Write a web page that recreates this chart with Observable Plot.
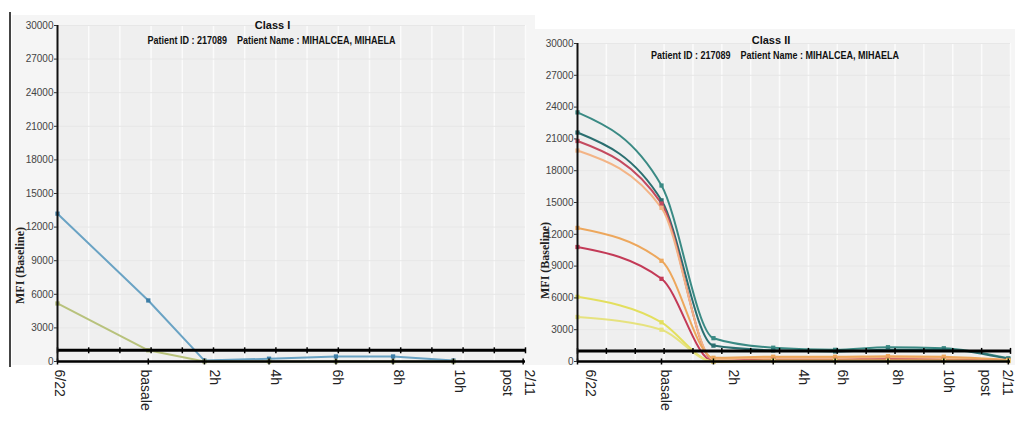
<!DOCTYPE html>
<html><head><meta charset="utf-8">
<script src="https://cdn.jsdelivr.net/npm/d3@7"></script>
<script src="https://cdn.jsdelivr.net/npm/@observablehq/plot@0.6"></script>
<style>
body{margin:0;background:#fff;width:1015px;height:441px;overflow:hidden;position:relative;font-family:"Liberation Sans",Arial,sans-serif}
.panel{position:absolute;top:0}
.bg{position:absolute;background:#f5f5f5}
</style></head><body>
<div class="bg" style="left:12px;top:15px;width:523px;height:350px"></div>
<div class="bg" style="left:530px;top:29px;width:485px;height:336px"></div>
<div style="position:absolute;left:9px;top:12px;width:2px;height:355px;background:#444"></div>
<div id="c1" class="panel" style="left:0"></div>
<div id="c2" class="panel" style="left:540px"></div>
<script>
// sample timepoints (relative position on the time axis, 0..100)
const sampleT = [0, 19.4, 31.4, 45.2, 59.5, 71.7, 84.6, 99.5];
const tickLabels = ["6/22", "basale", "2h", "4h", "6h", "8h", "10h", "post", "2/11"];
const classILabelT = [0.4, 18.8, 33.5, 46.6, 59.8, 72.9, 85.9, 96.2, 100.9];
const classIILabelT = [3.0, 20.3, 36.0, 52.2, 61.2, 73.9, 85.7, 94.2, 99.3];
const yTicks = [0, 3000, 6000, 9000, 12000, 15000, 18000, 21000, 24000, 27000, 30000];
const threshold = 1000;
const gridT = d3.range(16).map(i => i * 100 / 15);

const subtitle = "Patient ID : 217089\u00a0\u00a0\u00a0\u00a0Patient Name : MIHALCEA, MIHAELA";

// Class I series
const classINames = ["Bead A", "Bead B"];
const classIColors = ["#6aa3c4", "#b8c27c"];
const classIMarker = ["#3c7da6", "#a8b46a"];
const classIBeadA = [13200, 5450, 80, 250, 450, 450, 80];
const classIBeadB = [5180, 1000, 0, 0, 0, 0, 0];

// Class II series
const classIINames = ["DQ 1", "DQ 2", "DR 1", "DR 2", "DR 3", "DR 4", "DP 1", "DP 2"];
const classIIColors = ["#3a8a84", "#2b6f70", "#c44a5f", "#f3b486", "#eda75c", "#c33a57", "#e3df5e", "#e6e27e"];
const classIIdq1 = [23500, 16600, 2200, 1300, 1100, 1350, 1250, 300];
const classIIdq2 = [21600, 15200, 1500, 1050, 950, 1100, 1100, 250];
const classIIdr1 = [20800, 14900, 100, 200, 200, 250, 200, 100];
const classIIdr2 = [19900, 14500, 200, 350, 350, 400, 350, 100];
const classIIdr3 = [12600, 9500, 350, 450, 450, 500, 450, 150];
const classIIdr4 = [10800, 7800, 0, 150, 150, 150, 150, 50];
const classIIdp1 = [6100, 3700, 0, 100, 100, 100, 100, 50];
const classIIdp2 = [4200, 3000, 0, 50, 50, 50, 50, 50];

const vtick = {draw(ctx) { ctx.moveTo(0, -3); ctx.lineTo(0, 3); }};

function rowsOf(names, arrays) {
  return names.flatMap((n, k) => arrays[k].map((v, i) => ({name: n, t: sampleT[i], v})));
}

function panel({width, mL, mR, mT, mB, names, arrays, colors, markers, labelT, title, curve, titleDx, subDx, titleDy, subDy, ylabDx, ylabDy}) {
  const rows = rowsOf(names, arrays);
  const svg = Plot.plot({
    width, height: 441,
    marginLeft: mL, marginRight: mR, marginTop: mT, marginBottom: mB,
    style: {fontFamily: "'Liberation Sans',Arial,sans-serif", fontSize: "10px", background: "transparent", overflow: "visible"},
    x: {domain: [0, 100], axis: null},
    y: {domain: [0, 30000], axis: null},
    color: {domain: names, range: colors},
    marks: [
      Plot.frame({fill: "#efefef", stroke: null}),
      Plot.gridX(gridT, {stroke: "#fbfbfb", strokeOpacity: 1, strokeWidth: 1.5}),
      Plot.gridY(yTicks, {stroke: "#e7e7e7", strokeOpacity: 1}),
      Plot.lineY(rows, {x: "t", y: "v", z: "name", stroke: "name", strokeWidth: 2, curve}),
      Plot.dot(rows, {x: "t", y: "v", fill: d => markers[names.indexOf(d.name)], symbol: "square", r: 2.4}),
      Plot.ruleY([threshold], {stroke: "#000", strokeWidth: 3}),
      Plot.dot(gridT, {x: d => d, y: threshold, symbol: vtick, stroke: "#000", fill: "none", strokeWidth: 1.5}),
      Plot.ruleY([0], {stroke: "#000", strokeWidth: 2.5}),
      Plot.dot(sampleT, {x: d => d, y: 0, symbol: vtick, stroke: "#000", fill: "none", strokeWidth: 1.5}),
      Plot.ruleX([0], {y1: 0, y2: 30000, stroke: "#111", strokeWidth: 2}),
      Plot.axisY(yTicks, {tickSize: 3, tickPadding: 1, fill: "#444", stroke: "#333", label: null, fontSize: 10, tickFormat: d => String(d)}),
      Plot.text(tickLabels, {x: (d, i) => labelT[i], text: d => d, frameAnchor: "bottom", rotate: 90, textAnchor: "start", lineAnchor: "middle", dy: 8, fontSize: 14, fill: "#222"}),
      Plot.text([title], {frameAnchor: "top", dx: titleDx, dy: titleDy, fontWeight: "bold", fontSize: 11, fill: "#111"}),
      Plot.text([subtitle], {frameAnchor: "top", dx: subDx, dy: subDy, fontWeight: "bold", fontSize: 11, fill: "#111"}),
      Plot.text(["MFI (Baseline)"], {frameAnchor: "left", dx: ylabDx, dy: ylabDy, rotate: -90, textAnchor: "middle", fontWeight: "bold", fontSize: 12, fill: "#222", fontFamily: "'Liberation Serif','Times New Roman',serif", style: "letter-spacing:1.6px"})
    ]
  });
  // condense the bold title lines like the narrow font of the original
  d3.select(svg).selectAll("text").filter(function() { return this.textContent === subtitle; })
    .attr("textLength", 248).attr("lengthAdjust", "spacingAndGlyphs");
  return svg;
}

document.getElementById("c1").append(panel({
  width: 535, mL: 57, mR: 10, mT: 25, mB: 80,
  names: classINames, arrays: [classIBeadA, classIBeadB], colors: classIColors, markers: classIMarker,
  labelT: classILabelT, title: "Class I", curve: "linear",
  titleDx: -19, subDx: -20, titleDy: -4, subDy: 11, ylabDx: -37, ylabDy: 72
}));
document.getElementById("c2").append(panel({
  width: 475, mL: 37, mR: 5, mT: 43, mB: 80,
  names: classIINames, arrays: [classIIdq1, classIIdq2, classIIdr1, classIIdr2, classIIdr3, classIIdr4, classIIdp1, classIIdp2],
  colors: classIIColors, markers: classIIColors,
  labelT: classIILabelT, title: "Class II", curve: "monotone-x",
  titleDx: -23, subDx: -19, titleDy: -7, subDy: 8, ylabDx: -32, ylabDy: 58
}));
</script>
</body></html>
